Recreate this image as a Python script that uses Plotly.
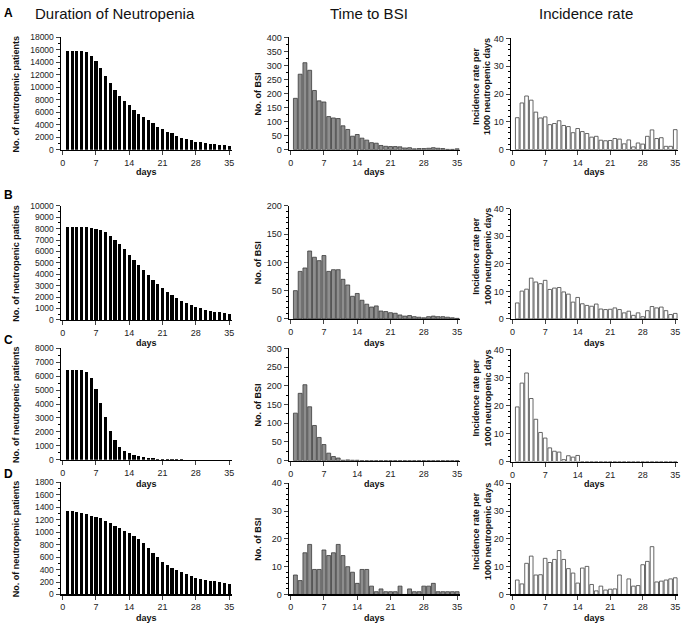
import plotly.graph_objects as go

days = list(range(1, 36))

# ---- Row A ----
A_patients = [15900, 15900, 15900, 15800, 15600, 15100, 14200, 13100, 11800, 10700,
              9500, 8600, 7800, 7100, 6400, 5800, 5200, 4700, 4200, 3700,
              3300, 2900, 2600, 2250, 1950, 1700, 1500, 1300, 1200, 1050,
              950, 850, 780, 720, 650]
A_bsi = [183, 269, 310, 283, 211, 174, 170, 118, 113, 111,
         85, 72, 48, 54, 41, 34, 25, 23, 15, 12,
         11, 11, 10, 6, 7, 3, 4, 4, 5, 7,
         5, 4, 1, 1, 3]
A_rate = [11.5, 16.8, 19.3, 17.8, 13.5, 11.4, 11.8, 9.0, 9.4, 10.4,
          8.7, 8.3, 6.1, 7.6, 6.5, 5.8, 4.5, 4.8, 3.4, 3.2,
          3.3, 4.0, 3.8, 2.1, 3.5, 1.0, 2.4, 2.0, 4.8, 7.1,
          4.0, 4.3, 1.2, 1.2, 7.2]

# ---- Row B ----
B_patients = [8150, 8150, 8150, 8100, 8100, 8050, 7970, 7880, 7710, 7330,
              7010, 6610, 6170, 5680, 5220, 4780, 4350, 3910, 3500, 3130,
              2780, 2460, 2170, 1910, 1680, 1480, 1300, 1130, 1010, 900,
              810, 725, 670, 610, 550]
B_bsi = [50, 84, 90, 120, 109, 103, 112, 84, 87, 87,
         70, 60, 40, 45, 33, 26, 21, 23, 14, 13,
         11, 10, 7, 5, 6, 4, 3, 2, 4, 5,
         4, 4, 3, 2, 1]
B_rate = [5.8, 10.1, 10.8, 14.8, 13.4, 12.8, 14.0, 10.7, 11.2, 11.4,
          9.8, 9.0, 6.1, 7.8, 5.5, 4.9, 4.6, 5.4, 3.6, 3.4,
          3.5, 4.0, 3.4, 2.2, 2.8, 1.3, 2.2, 0.8, 3.0, 4.5,
          4.0, 4.3, 3.0, 1.6, 2.0]

# ---- Row C ----
C_patients = [6470, 6470, 6450, 6430, 6280, 5880, 5080, 4090, 3060, 2090,
              1390, 920, 640, 450, 330, 240, 170, 130, 100, 75,
              55, 40, 30, 20, 15, 10, 8, 6, 5, 4,
              3, 2, 2, 1, 1]
C_bsi = [127, 180, 203, 144, 94, 62, 43, 20, 11, 7,
         1, 2, 1, 1, 0, 0, 0, 0, 0, 0,
         0, 0, 0, 0, 0, 0, 0, 0, 0, 0,
         0, 0, 0, 0, 0]
C_rate = [19.5, 28.0, 31.6, 22.5, 15.1, 10.4, 8.4, 4.9, 3.7, 3.4,
          0.7, 2.1, 1.6, 2.2, 0, 0, 0, 0, 0, 0,
          0, 0, 0, 0, 0, 0, 0, 0, 0, 0,
          0, 0, 0, 0, 0]

# ---- Row D ----
D_patients = [1337, 1337, 1321, 1300, 1284, 1263, 1237, 1221, 1179, 1142,
              1105, 1068, 1026, 984, 942, 884, 821, 747, 668, 605,
              526, 479, 432, 389, 353, 326, 295, 263, 247, 232,
              221, 211, 200, 189, 174]
D_bsi = [7, 5, 15, 18, 9, 9, 16, 14, 15, 18,
         14, 10, 8, 4, 9, 9, 3, 1, 2, 1,
         1, 1, 3, 0, 2, 1, 1, 3, 3, 4,
         1, 1, 1, 1, 1]
D_rate = [5.2, 3.8, 11.2, 13.8, 7.0, 7.1, 13.0, 11.5, 12.6, 15.8,
          12.6, 9.3, 7.7, 4.1, 9.5, 10.1, 3.6, 1.3, 3.0, 1.6,
          1.9, 2.0, 7.0, 0, 5.6, 3.0, 3.2, 10.7, 11.9, 17.2,
          4.5, 4.8, 5.2, 5.6, 6.0]

x_ticks = [0, 7, 14, 21, 28, 35]
col_titles = ["Duration of Neutropenia", "Time to BSI", "Incidence rate"]
y_titles = ["No. of neutropenic patients", "No. of BSI",
            "Incidence rate per<br>1000 neutropenic days"]
panel_letters = ["A", "B", "C", "D"]
x_title = "days"

W, H = 685, 629
FONT = "Liberation Sans, Arial, sans-serif"

series = [
    [A_patients, A_bsi, A_rate],
    [B_patients, B_bsi, B_rate],
    [C_patients, C_bsi, C_rate],
    [D_patients, D_bsi, D_rate],
]
# y-axis (max, dtick, minor dtick) per panel
yaxes_cfg = [
    [(18000, 2000, 1000), (400, 50, 25), (40, 10, 2)],
    [(10000, 1000, 500), (200, 50, 10), (40, 10, 2)],
    [(8000, 1000, 500), (300, 50, 25), (40, 10, 2)],
    [(1800, 200, 100), (40, 10, 2), (40, 10, 2)],
]

# pixel geometry
col_x = [(60, 232), (289, 461), (512, 680)]
row_y = [
    [(33, 147), (33, 147), (34, 147)],
    [(204, 320), (204, 319), (207, 319)],
    [(349, 462), (349, 463), (350, 464)],
    [(485, 599), (486, 599), (486, 599)],
]
days_y = [170, 343, 487, 623]
ytitle_x = [15, 258, 483]
letter_y = [8, 193, 340, 477]

def fx(px):
    return px / W

def fy(py):
    return 1 - py / H

bar_styles = [
    dict(color="#000000", line=dict(width=0), width=0.66),
    dict(color="#8e8e8e", line=dict(color="#3a3a3a", width=0.8), width=0.82),
    dict(color="#ffffff", line=dict(color="#555555", width=0.9), width=0.78),
]

fig = go.Figure()
annotations = []
layout_axes = {}

k = 0
for r in range(4):
    for c in range(3):
        k += 1
        xa = "x" if k == 1 else f"x{k}"
        ya = "y" if k == 1 else f"y{k}"
        st = bar_styles[c]
        fig.add_trace(go.Bar(
            x=days, y=series[r][c], xaxis=xa, yaxis=ya,
            width=st["width"],
            marker=dict(color=st["color"], line=st["line"]),
            showlegend=False, hoverinfo="x+y",
        ))
        x0, x1 = col_x[c]
        y0, y1 = row_y[r][c]
        ymax, dt, mdt = yaxes_cfg[r][c]
        tick_font = dict(family=FONT, size=8.5 if c == 0 else 9, color="#222")
        layout_axes["xaxis" if k == 1 else f"xaxis{k}"] = dict(
            domain=[fx(x0), fx(x1)], anchor=ya, range=[-0.4, 35.6],
            tickvals=x_ticks, ticks="outside", ticklen=4, tickwidth=1,
            showline=True, linecolor="#000", linewidth=1.2,
            showgrid=False, zeroline=False,
            tickfont=dict(family=FONT, size=9, color="#222"),
            ticklabeloverflow="allow",
            fixedrange=True,
        )
        layout_axes["yaxis" if k == 1 else f"yaxis{k}"] = dict(
            domain=[fy(y1), fy(y0)], anchor=xa, range=[0, ymax],
            dtick=dt, tick0=0, tickformat="d", ticks="outside", ticklen=4, tickwidth=1,
            minor=dict(dtick=mdt, ticks="outside", ticklen=2, tickwidth=1, tickcolor="#000"),
            showline=True, linecolor="#000", linewidth=1.2,
            showgrid=False, zeroline=False, tickfont=tick_font,
            fixedrange=True,
        )
        annotations.append(dict(
            text=f"<b>{x_title}</b>", x=fx((x0 + x1) / 2), y=fy(days_y[r]),
            xref="paper", yref="paper", showarrow=False,
            xanchor="center", yanchor="middle",
            font=dict(family=FONT, size=9, color="#111"),
        ))
        annotations.append(dict(
            text=f"<b>{y_titles[c]}</b>", x=fx(ytitle_x[c]),
            y=fy((y0 + y1) / 2 - (8 if c == 2 else 0)),
            xref="paper", yref="paper", showarrow=False, textangle=-90,
            xanchor="center", yanchor="middle",
            font=dict(family=FONT, size=9, color="#111"),
        ))

title_x = [115, 370, 588]
for c in range(3):
    annotations.append(dict(
        text=col_titles[c], x=fx(title_x[c]), y=fy(9),
        xref="paper", yref="paper", showarrow=False,
        xanchor="center", yanchor="middle",
        font=dict(family=FONT, size=15, color="#111"),
    ))
for r in range(4):
    annotations.append(dict(
        text=f"<b>{panel_letters[r]}</b>", x=fx(1), y=fy(letter_y[r]),
        xref="paper", yref="paper", showarrow=False,
        xanchor="left", yanchor="middle",
        font=dict(family=FONT, size=12, color="#000"),
    ))

fig.update_layout(
    width=W, height=H,
    margin=dict(l=0, r=0, t=0, b=0),
    paper_bgcolor="white", plot_bgcolor="white",
    annotations=annotations,
    bargap=0,
    hovermode=False,
    **layout_axes,
)

fig.write_html("out.html",
               config={"displayModeBar": False, "staticPlot": True},
               post_script="document.body.style.margin='0';document.body.style.overflow='hidden';")
